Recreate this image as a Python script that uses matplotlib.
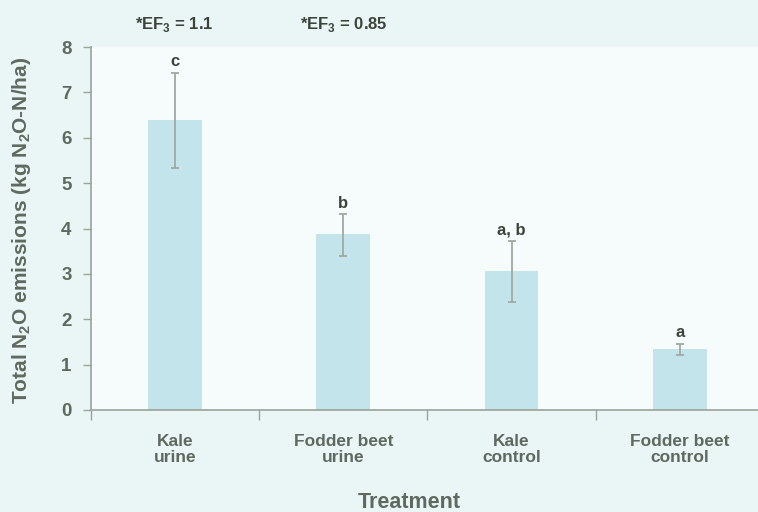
import matplotlib
matplotlib.use("Agg")
import matplotlib.pyplot as plt
import numpy as np

categories = ["Kale\nurine", "Fodder beet\nurine", "Kale\ncontrol", "Fodder beet\ncontrol"]
values = [6.40, 3.87, 3.07, 1.35]
err_upper = [1.03, 0.45, 0.66, 0.11]
err_lower = [1.06, 0.47, 0.68, 0.13]
letters = ["c", "b", "a, b", "a"]
ef_labels = [r"*EF$_\mathbf{3}$ = 1.1", r"*EF$_\mathbf{3}$ = 0.85"]
yticks = [0, 1, 2, 3, 4, 5, 6, 7, 8]

plt.rcParams['font.family'] = ['Liberation Sans', 'DejaVu Sans']
plt.rcParams['font.weight'] = 'bold'
plt.rcParams['mathtext.fontset'] = 'custom'
plt.rcParams['mathtext.rm'] = 'Liberation Sans:bold'
plt.rcParams['mathtext.bf'] = 'Liberation Sans:bold'

fig_bg = "#eaf6f6"
panel_bg = "#f6fbfc"
bar_c = "#c3e4ea"
axis_c = "#9aa39a"
tick_txt = "#5f695f"
dark_txt = "#3c4339"

W, H = 758, 512
fig = plt.figure(figsize=(W/100, H/100), dpi=100, facecolor=fig_bg)
left, right, top, bottom = 91, 758, 47, 410
ax = fig.add_axes([left/W, 1 - bottom/H, (right-left)/W, (bottom-top)/H])
ax.set_facecolor(panel_bg)

x = np.arange(len(categories))
ax.bar(x, values, width=0.32, color=bar_c, zorder=2)
ax.errorbar(x, values, yerr=[err_lower, err_upper], fmt='none', ecolor="#a0aaa0",
            elinewidth=1.3, capsize=3, capthick=1.3, zorder=3)

for xi, v, eu, lab in zip(x, values, err_upper, letters):
    ax.annotate(lab, (xi, v + eu), xytext=(0, 2.5), textcoords='offset points',
                ha='center', va='bottom', fontsize=12, fontweight='bold', color=dark_txt)

ax.set_ylim(0, 8)
ax.set_xlim(-0.5, 3.465)
ax.set_yticks(yticks)
ax.set_yticklabels([str(t) for t in yticks])
ax.set_xticks(np.arange(-0.5, 3.0, 1.0))
ax.set_xticklabels([])
ax.set_xticks(x, minor=True)
ax.set_xticklabels(categories, minor=True)
ax.tick_params(axis='x', which='major', length=7, width=1, color=axis_c, direction='out')
ax.tick_params(axis='x', which='minor', length=0, pad=17, labelsize=12.5, labelcolor=tick_txt)
ax.tick_params(axis='y', length=6, width=1, color=axis_c, direction='out', pad=8,
               labelsize=13.5, labelcolor=tick_txt)
for lbl in ax.get_xticklabels(minor=True):
    lbl.set_linespacing(1.15)
    lbl.set_fontweight('bold')
for s in ['top', 'right']:
    ax.spines[s].set_visible(False)
for s in ['left', 'bottom']:
    ax.spines[s].set_color(axis_c)
    ax.spines[s].set_linewidth(1.2)

fig.text(22/W, 1 - 230/H, r"Total N$_\mathbf{2}$O emissions (kg N$_\mathbf{2}$O-N/ha)",
         rotation=90, ha='center', va='center', fontsize=15,
         fontweight='bold', color=tick_txt)

fig.text(409/W, 1 - 503/H, "Treatment", ha='center', va='center', fontsize=15.5,
         fontweight='bold', color=tick_txt)
fig.text(174/W, 1 - 25/H, ef_labels[0], ha='center', va='center', fontsize=12,
         fontweight='bold', color=dark_txt)
fig.text(344/W, 1 - 25/H, ef_labels[1], ha='center', va='center', fontsize=12,
         fontweight='bold', color=dark_txt)

fig.savefig("out.png", dpi=100, facecolor=fig_bg)
